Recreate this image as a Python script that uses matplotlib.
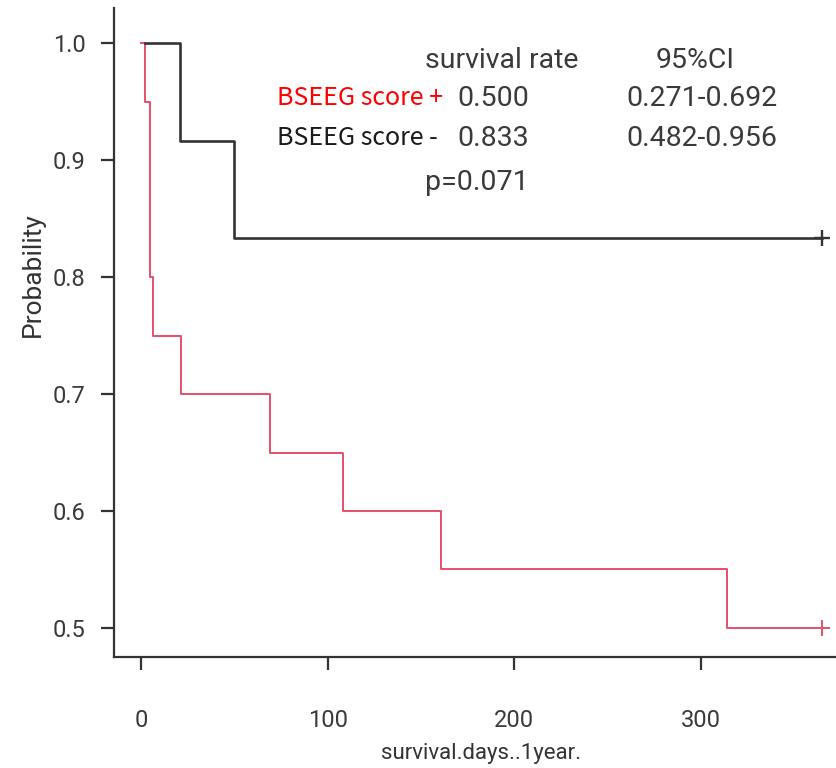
import matplotlib
matplotlib.use("Agg")
import matplotlib.pyplot as plt

NUM_FONT = ["Roboto", "DejaVu Sans"]
LABEL_FONT = ["Noto Sans CJK JP", "DejaVu Sans"]

# Kaplan-Meier step data (time in days, survival probability)
pos_times = [0, 2, 5, 6.5, 21.5, 69, 108, 161, 314, 365]
pos_surv = [1.0, 0.95, 0.80, 0.75, 0.70, 0.65, 0.60, 0.55, 0.50, 0.50]
neg_times = [2, 21, 50, 365]
neg_surv = [1.0, 0.9167, 0.8333, 0.8333]

xticks = [0, 100, 200, 300]
yticks = [0.5, 0.6, 0.7, 0.8, 0.9, 1.0]

groups = ["BSEEG score +", "BSEEG score -"]
rates = ["0.500", "0.833"]
cis = ["0.271-0.692", "0.482-0.956"]
p_text = "p=0.071"

RED_LINE = "#e5506a"
DARK = "#333333"

fig = plt.figure(figsize=(8.37, 7.68), dpi=100)
W, H = 837, 768
ax = fig.add_axes([114/W, 1-657/H, 1-114/W, (657-8)/H])
ax.step(pos_times, pos_surv, where="post", color=RED_LINE, lw=1.4)
ax.step(neg_times, neg_surv, where="post", color=DARK, lw=1.9)
# censoring marks at end of follow-up
ax.plot(pos_times[-1], pos_surv[-1], marker="+", ms=12, mew=1.4, color=RED_LINE)
ax.plot(neg_times[-1], neg_surv[-1], marker="+", ms=12, mew=1.7, color=DARK)

ax.set_xlim(-14.5, 373)
ax.set_ylim(0.4752, 1.030)
ax.set_xticks(xticks)
ax.set_xticklabels([str(t) for t in xticks])
ax.set_yticks(yticks)
ax.set_yticklabels([f"{t:.1f}" for t in yticks])
for s in ("top", "right"):
    ax.spines[s].set_visible(False)
for s in ("left", "bottom"):
    ax.spines[s].set_linewidth(1.6)
    ax.spines[s].set_color(DARK)
ax.tick_params(axis="both", direction="out", length=9.5, width=1.6, color=DARK,
               labelcolor="#3a3a3a", labelsize=17)
ax.tick_params(axis="x", pad=28)
ax.tick_params(axis="y", pad=11)
for lab in ax.get_xticklabels() + ax.get_yticklabels():
    lab.set_family(NUM_FONT)

fig.text(481/W, 1-754/H, "survival.days..1year.", ha="center", va="center",
         fontsize=16, family=NUM_FONT, color=DARK)
fig.text(33/W, 1-275/H, "Probability", ha="center", va="center", rotation=90,
         fontsize=19, family=NUM_FONT, color=DARK)

txt_kw = dict(va="center", fontsize=20.5, family=NUM_FONT, color="#3a3a3a")
fig.text(425/W, 1-60/H, "survival rate", **txt_kw)
fig.text(656/W, 1-60/H, "95%CI", **txt_kw)
row_y = [98, 138]
grp_colors = ["#ff0000", "#1a1a1a"]
for g, r, c, y, col in zip(groups, rates, cis, row_y, grp_colors):
    fig.text(277/W, 1-y/H, g, va="center", fontsize=18, family=LABEL_FONT, color=col)
    fig.text(457/W, 1-y/H, r, **txt_kw)
    fig.text(626/W, 1-y/H, c, **txt_kw)
fig.text(425/W, 1-183/H, p_text, **txt_kw)

fig.savefig("out.png")
